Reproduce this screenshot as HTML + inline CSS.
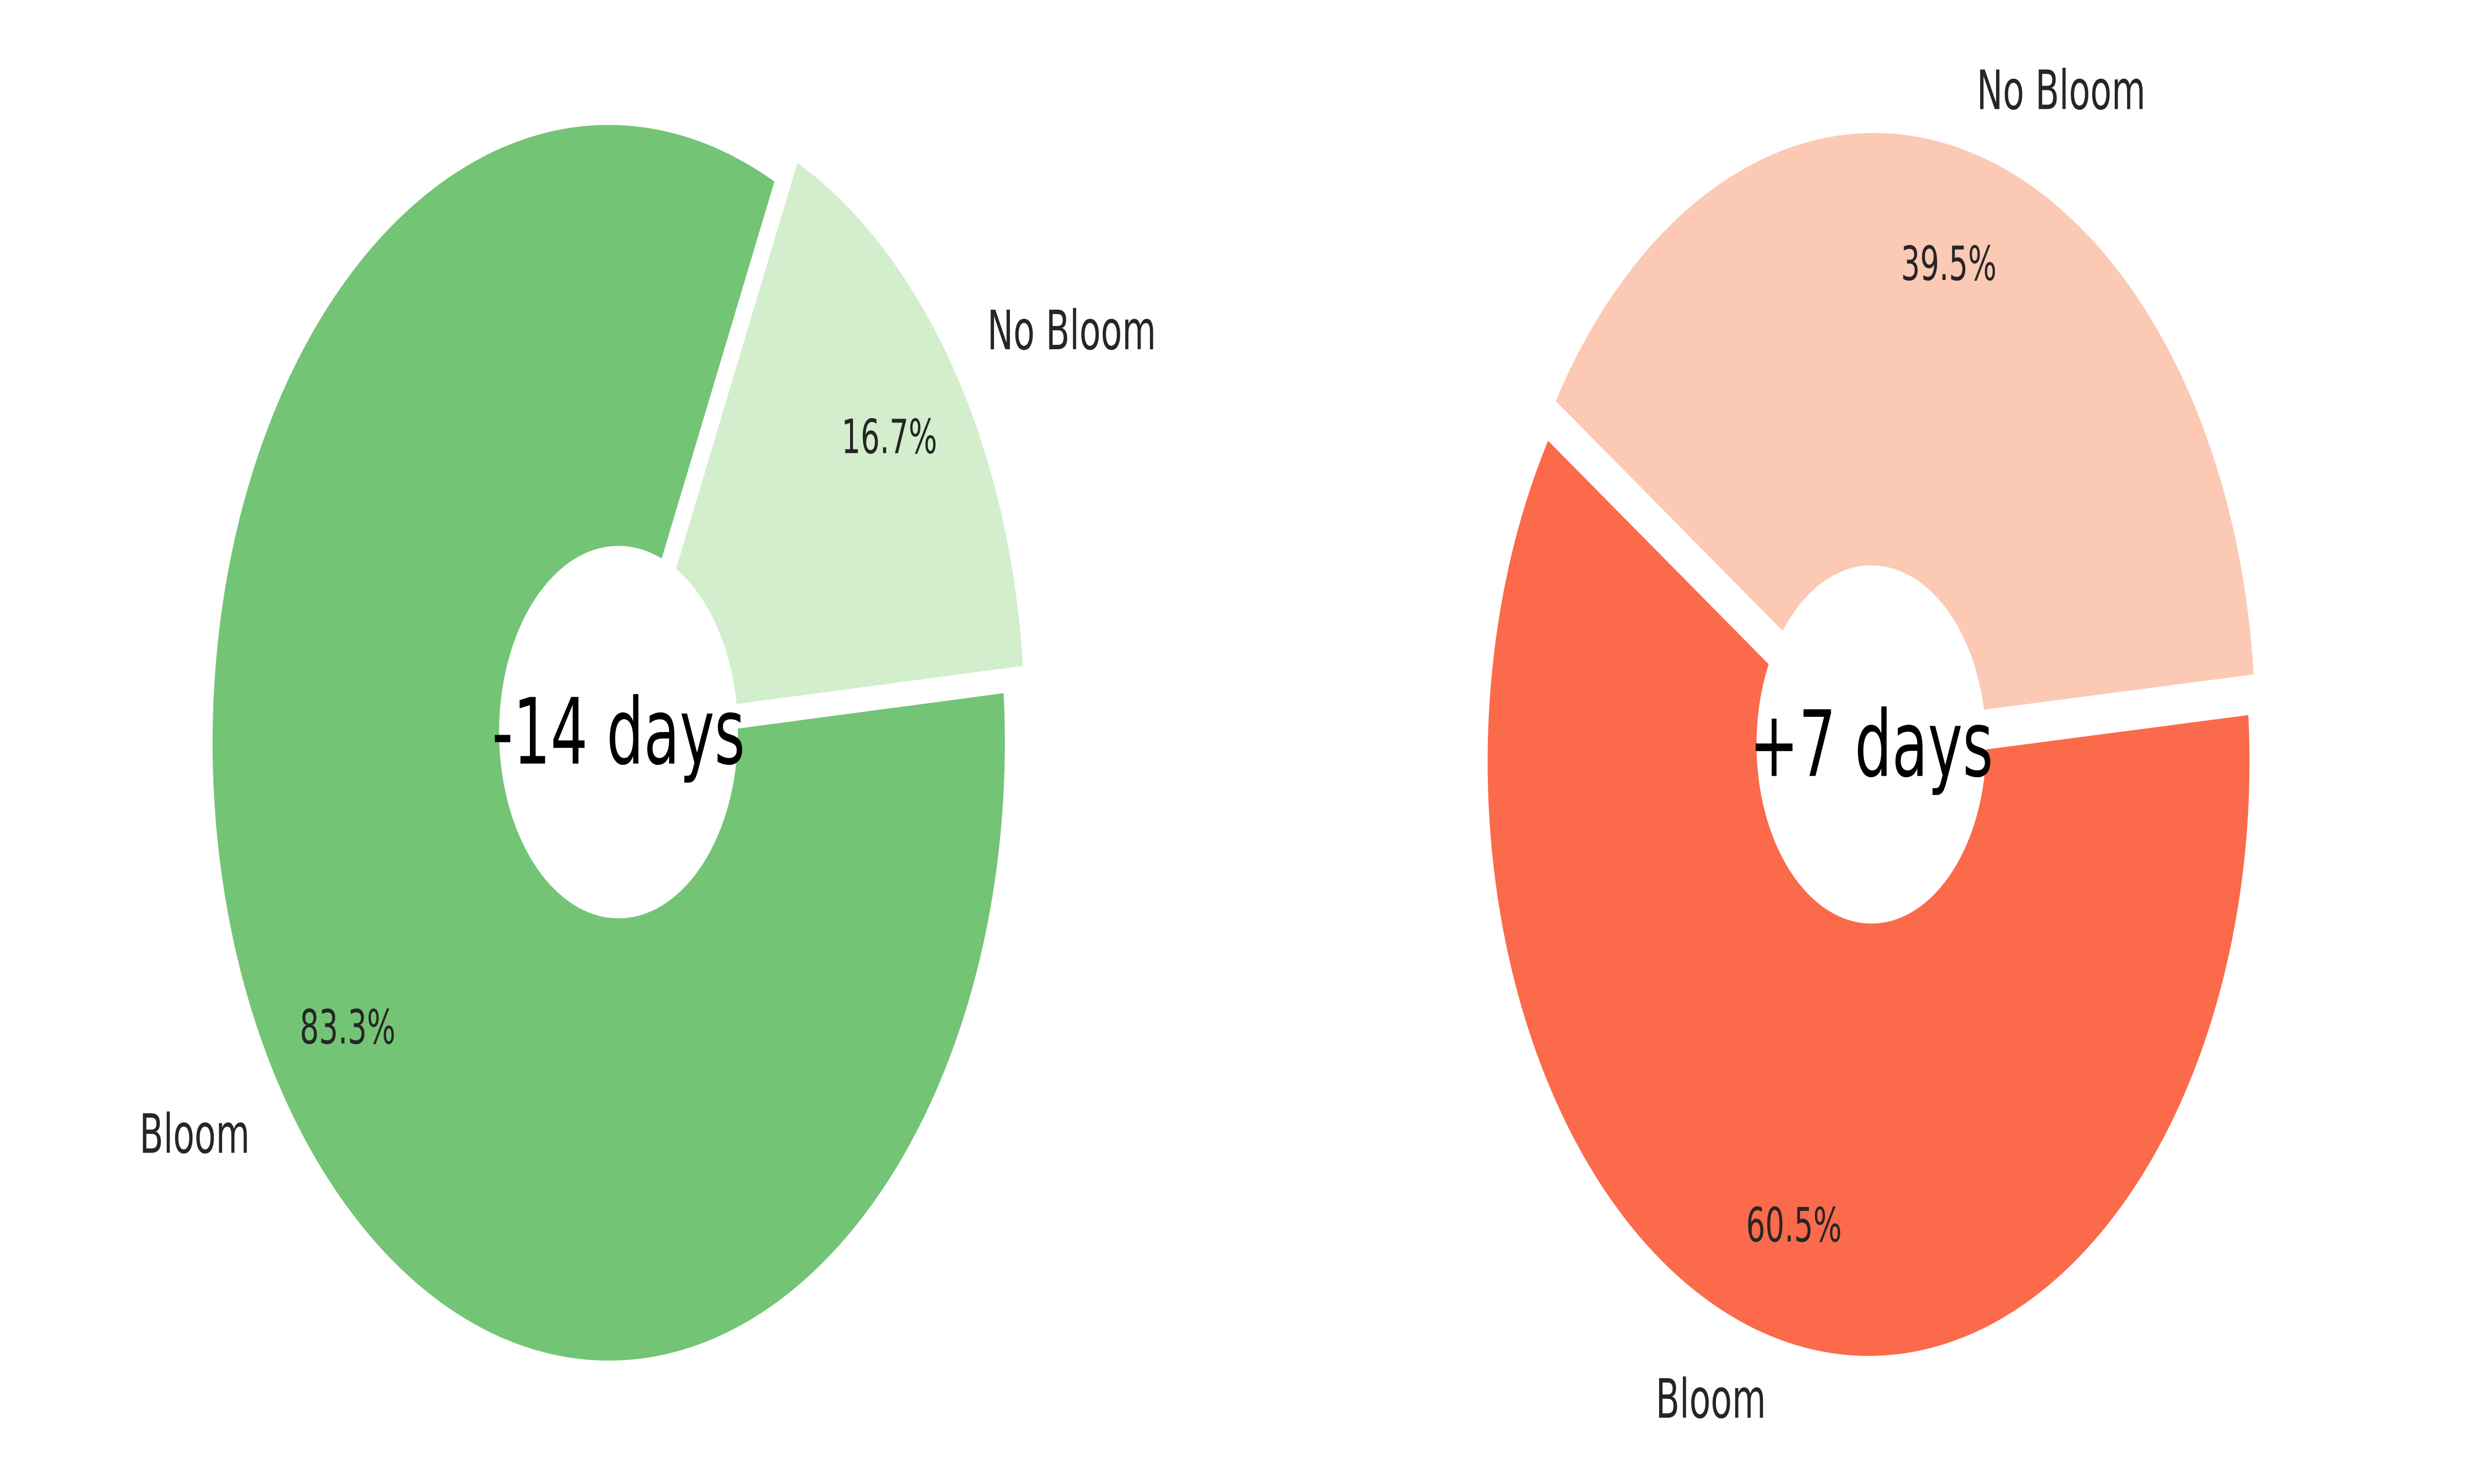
<!DOCTYPE html>
<html><head><meta charset="utf-8"><style>
html,body{margin:0;padding:0;background:#fff;overflow:hidden;width:100%;height:100%;}
svg{display:block;width:100vw;height:100vh;}
</style></head><body>
<svg id="chart" viewBox="0 0 7800 3000" preserveAspectRatio="none" xmlns="http://www.w3.org/2000/svg" font-family="DejaVu Sans, Liberation Sans, sans-serif"></svg>
<script>
const categories = ["Bloom", "No Bloom"];
const leftValues = [83.3, 16.7];
const rightValues = [60.5, 39.5];
const centerLabels = ["-14 days", "+7 days"];
const leftColors = ["#74c476", "#d3eecd"];
const rightColors = ["#fb6a4a", "#fcc9b5"];

const NS = "http://www.w3.org/2000/svg";
const svg = document.getElementById("chart");
const pies = [
  {values: leftValues, colors: leftColors, label: centerLabels[0], cx: 1950, cy: 1480, R: 1255, start: 65, name: "minus-14"},
  {values: rightValues, colors: rightColors, label: centerLabels[1], cx: 5900, cy: 1505, R: 1207, start: 147, name: "plus-7"}
];
function mk(tag, attrs){const e=document.createElementNS(NS,tag);for(const k in attrs)e.setAttribute(k,attrs[k]);return e;}
pies.forEach(p=>{
  const g = mk("g",{});
  
  
  svg.appendChild(g);
  const total = p.values.reduce((a,b)=>a+b,0);
  let a0 = p.start;
  const ex = 0.03*p.R;
  p.values.forEach((v,i)=>{
    const span = v/total*360;
    const a1 = a0+span, mid = (a0+a1)/2*Math.PI/180;
    const ox = p.cx + ex*Math.cos(mid), oy = p.cy - ex*Math.sin(mid);
    const r0=a0*Math.PI/180, r1=a1*Math.PI/180;
    const x0=ox+p.R*Math.cos(r0), y0=oy-p.R*Math.sin(r0);
    const x1=ox+p.R*Math.cos(r1), y1=oy-p.R*Math.sin(r1);
    const path = mk("path",{d:`M${ox},${oy} L${x0},${y0} A${p.R},${p.R} 0 ${span>180?1:0} 0 ${x1},${y1} Z`, fill:p.colors[i], stroke:"#fff","stroke-width":12,"stroke-linejoin":"miter"});
    
    
    g.appendChild(path);
    const lx = ox + 1.1*p.R*Math.cos(mid), ly = oy - 1.1*p.R*Math.sin(mid);
    const t = mk("text",{x:lx,y:ly,"font-size":110,fill:"#262626","text-anchor":Math.cos(mid)>=0?"start":"end","dominant-baseline":"central"});
    t.textContent = categories[i];
    
    
    g.appendChild(t);
    const px = ox + 0.8*p.R*Math.cos(mid), py = oy - 0.8*p.R*Math.sin(mid);
    const pt = mk("text",{x:px,y:py,"font-size":95,fill:"#262626","text-anchor":"middle","dominant-baseline":"central"});
    pt.textContent = v.toFixed(1)+"%";
    
    
    g.appendChild(pt);
    a0 = a1;
  });
  const hole = mk("circle",{cx:p.cx,cy:p.cy,r:0.3*p.R,fill:"#fff"});
  
  
  g.appendChild(hole);
  const ct = mk("text",{x:p.cx,y:p.cy,"font-size":185,fill:"#000","text-anchor":"middle","dominant-baseline":"central"});
  ct.textContent = p.label;
  
  
  g.appendChild(ct);
});
</script>
</body></html>
